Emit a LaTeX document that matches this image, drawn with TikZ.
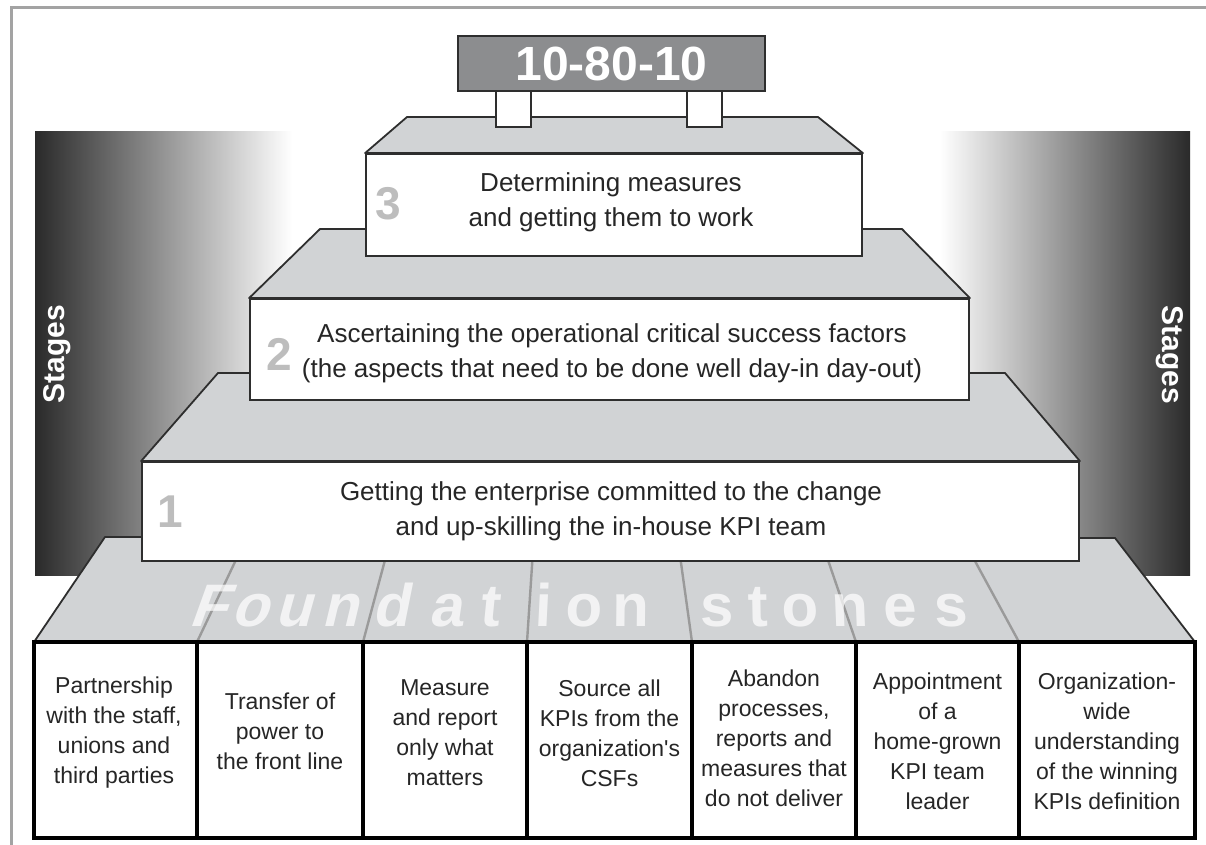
\documentclass[tikz,border=0pt]{standalone}
\usepackage{fontspec}
\setmainfont{Liberation Sans}
\definecolor{facegray}{HTML}{D1D3D5}
\definecolor{edgegray}{HTML}{2E2E2E}
\definecolor{framegray}{HTML}{A3A3A3}
\definecolor{bannergray}{HTML}{8C8D8F}
\definecolor{numgray}{HTML}{BDBDBD}
\definecolor{inkgray}{HTML}{262626}
\definecolor{seamgray}{HTML}{9A9A9A}
\definecolor{stagedark}{HTML}{2A2A2A}
\begin{document}
\begin{tikzpicture}[x=1pt,y=-1pt,
  face/.style={fill=facegray,draw=edgegray,line width=1.8pt,line join=round},
  tierbox/.style={fill=white,draw=edgegray,line width=1.8pt,inner sep=0pt},
  tiertext/.style={text=inkgray,align=center,font=\fontsize{26}{35}\selectfont},
  tiernum/.style={text=numgray,font=\fontsize{46}{46}\selectfont\bfseries},
  stonebox/.style={fill=white,draw=black,line width=4.5pt,inner sep=0pt,
    minimum height=196pt},
  stonetext/.style={text=inkgray,align=center,font=\fontsize{23}{30}\selectfont},
  stagelabel/.style={text=white,font=\fontsize{30}{30}\selectfont\bfseries},
  seam/.style={draw=seamgray,line width=2.4pt},
  stoneletter/.style={text=white,opacity=0.72,anchor=base,
    font=\fontsize{60}{60}\selectfont\bfseries},
  leg/.style={fill=white,draw=edgegray,line width=1.8pt,inner sep=0pt,
    minimum width=35pt,minimum height=36pt}]
\useasboundingbox (0,0) rectangle (1206,845);

% page frame
\draw[framegray,line width=3pt] (11,845) -- (11,8) -- (1206,8);

% side "Stages" bars
\shade[left color=stagedark,right color=white] (35,132) rectangle (292,575);
\shade[left color=white,right color=stagedark] (940,132) rectangle (1190,575);
\node[stagelabel,rotate=90] (stagesL) at (57,354) {Stages};
\node[stagelabel,rotate=-90] (stagesR) at (1170,355) {Stages};

% foundation slab
\path[face] (34,642) -- (105,537) -- (1115,538) -- (1195,642) -- cycle;
\draw[seam] (197,642) -- (246.8,537);
\draw[seam] (363,642) -- (391.2,537);
\draw[seam] (527,642) -- (533.9,537);
\draw[seam] (692,642) -- (677.4,537);
\draw[seam] (856,642) -- (820.1,537);
\draw[seam] (1019,642) -- (961.9,537);
\foreach \ch/\xx/\sl in {F/207/0.36,o/249/0.32,u/293/0.28,n/340/0.24,
    d/391/0.2,a/446/0.15,t/489/0.1,i/543/0.05,o/584/0.03,n/631/0.01,
    s/717/0.0,t/758/-0.02,o/801/-0.03,n/851/-0.04,e/901/-0.05,s/952/-0.06}
  \node[stoneletter,xslant=\sl] at (\xx,626) {\ch};

% stage 1
\node[tierbox,minimum width=937pt,minimum height=99pt] (t1) at (610.5,511.5) {};
\node[tiertext] (t1txt) at (611,511) {Getting the enterprise committed to the change\\and up-skilling the in-house KPI team};
\node[tiernum] (n1) at (170,512) {1};
\path[face] (t1.north west) -- (218,373) -- (1005,373) -- (t1.north east) -- cycle;

% stage 2
\node[tierbox,minimum width=719pt,minimum height=101pt] (t2) at (609.5,349.5) {};
\node[tiertext] (t2txt) at (612,353) {Ascertaining the operational critical success factors\\(the aspects that need to be done well day-in day-out)};
\node[tiernum] (n2) at (279,354) {2};
\path[face] (t2.north west) -- (320,229) -- (902,229) -- (t2.north east) -- cycle;

% stage 3
\node[tierbox,minimum width=496pt,minimum height=102pt] (t3) at (614,205) {};
\node[tiertext] (t3txt) at (611,202) {Determining measures\\and getting them to work};
\node[tiernum] (n3) at (388,204) {3};
\path[face] (t3.north west) -- (407,117) -- (818,117) -- (t3.north east) -- cycle;

% the 10-80-10 bench
\node[leg] (legL) at (513.5,109) {};
\node[leg] (legR) at (704.5,109) {};
\node[fill=bannergray,draw=edgegray,line width=1.8pt,minimum width=307pt,
  minimum height=55pt,inner sep=0pt,text=white,
  font=\fontsize{48}{48}\selectfont\bfseries] (banner) at (611.5,63.5) {10-80-10};

% foundation stones
\node[stonebox,minimum width=163pt] (s1) at (115.5,740) {};
\node[stonebox,minimum width=166pt] (s2) at (280,740) {};
\node[stonebox,minimum width=164pt] (s3) at (445,740) {};
\node[stonebox,minimum width=165pt] (s4) at (609.5,740) {};
\node[stonebox,minimum width=164pt] (s5) at (774,740) {};
\node[stonebox,minimum width=163pt] (s6) at (937.5,740) {};
\node[stonebox,minimum width=176pt] (s7) at (1107,740) {};
\node[stonetext] (s1txt) at (114,733) {Partnership\\with the staff,\\unions and\\third parties};
\node[stonetext] (s2txt) at (280,731) {Transfer of\\power to\\the front line};
\node[stonetext] (s3txt) at (445,733) {Measure\\and report\\only what\\matters};
\node[stonetext] (s4txt) at (609.5,733) {Source all\\KPIs from the\\organization\textquotesingle s\\CSFs};
\node[stonetext] (s5txt) at (774,738) {Abandon\\processes,\\reports and\\measures that\\do not deliver};
\node[stonetext] (s6txt) at (937.5,741) {Appointment\\of a\\home-grown\\KPI team\\leader};
\node[stonetext] (s7txt) at (1107,741) {Organization-\\wide\\understanding\\of the winning\\KPIs definition};
\end{tikzpicture}
\end{document}
